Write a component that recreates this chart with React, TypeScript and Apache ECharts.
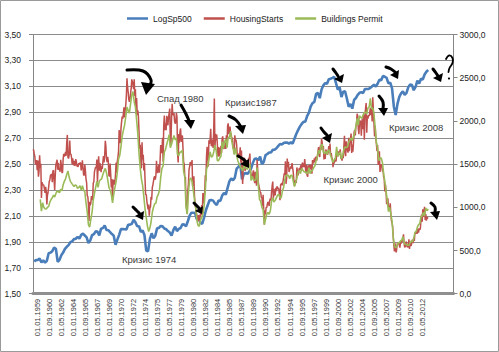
import React, { useEffect, useRef } from 'react';
import * as echarts from 'echarts';

// ---- axis definitions ----
const START_YEAR = 1959; // x = months since 01.01.1959
const X_AXIS_MONTHS = 698;
const X_LABEL_STEP = 20;
const X_LAST_LABEL = 640; // 01.05.2012
const LEFT_MIN = 1.5;
const LEFT_MAX = 3.5;
const LEFT_STEP = 0.2;
const RIGHT_MIN = 0;
const RIGHT_MAX = 3000;
const RIGHT_STEP = 500;

const seriesNames = ['LogSp500', 'HousingStarts', 'Buildings Permit'];

// LogSp500: quarterly (Mar, Jun, Sep, Dec) starting March 1959
const spStartMonth = 2;
const spStepMonths = 3;
const logSp500 = [
  1.749, 1.759, 1.76, 1.771,
  1.741, 1.758, 1.739, 1.754,
  1.812, 1.817, 1.828, 1.856,
  1.847, 1.745, 1.761, 1.797,
  1.817, 1.846, 1.862, 1.875,
  1.897, 1.904, 1.921, 1.924,
  1.939, 1.925, 1.954, 1.963,
  1.949, 1.935, 1.891, 1.91,
  1.951, 1.959, 1.981, 1.979,
  1.95, 2.002, 2.006, 2.027,
  1.992, 1.99, 1.975, 1.96,
  1.948, 1.878, 1.917, 1.954,
  1.998, 1.999, 1.997, 1.996,
  2.032, 2.033, 2.039, 2.07,
  2.051, 2.02, 2.021, 1.977,
  1.987, 1.953, 1.833, 1.827,
  1.923, 1.966, 1.928, 1.948,
  2.005, 2.008, 2.023, 2.02,
  2.003, 1.997, 1.983, 1.972,
  1.949, 1.99, 2.017, 1.983,
  2.0, 2.007, 2.036, 2.033,
  2.02, 2.059, 2.102, 2.125,
  2.125, 2.122, 2.073, 2.093,
  2.045, 2.04, 2.088, 2.144,
  2.182, 2.221, 2.223, 2.218,
  2.197, 2.185, 2.22, 2.216,
  2.257, 2.276, 2.265, 2.317,
  2.366, 2.39, 2.375, 2.395,
  2.465, 2.479, 2.501, 2.382,
  2.424, 2.432, 2.425, 2.442,
  2.466, 2.51, 2.541, 2.542,
  2.53, 2.558, 2.499, 2.517,
  2.569, 2.578, 2.59, 2.589,
  2.61, 2.611, 2.622, 2.639,
  2.655, 2.651, 2.662, 2.666,
  2.666, 2.658, 2.669, 2.658,
  2.695, 2.732, 2.762, 2.789,
  2.81, 2.826, 2.827, 2.871,
  2.897, 2.946, 2.971, 2.98,
  3.042, 3.05, 3.009, 3.076,
  3.108, 3.125, 3.12, 3.155,
  3.159, 3.165, 3.173, 3.124,
  3.074, 3.093, 3.017, 3.059,
  3.062, 3.006, 2.943, 2.963,
  2.928, 2.995, 3.01, 3.034,
  3.05, 3.054, 3.048, 3.079,
  3.079, 3.08, 3.088, 3.101,
  3.112, 3.098, 3.12, 3.151,
  3.148, 3.18, 3.174, 3.165,
  3.123, 3.128, 3.085, 2.943,
  2.879, 2.965, 3.019, 3.045,
  3.061, 3.035, 3.05, 3.094,
  3.115, 3.11, 3.07, 3.095,
  3.144, 3.122, 3.159, 3.153,
  3.191, 3.213, 3.226,
];

// HousingStarts: monthly starting January 1959
const hsStartMonth = 0;
const hsStepMonths = 1;
const housingStarts = [
  1657, 1667, 1620, 1590, 1498, 1503, 1547, 1430, 1540, 1355, 1416, 1601,
  1460, 1503, 1109, 1289, 1266, 1260, 1255, 1259, 1168, 1237, 1185, 1034,
  1139, 1174, 1234, 1300, 1320, 1368, 1378, 1386, 1290, 1418, 1429, 1319,
  1200, 1381, 1494, 1490, 1550, 1434, 1515, 1432, 1443, 1411, 1550, 1488,
  1405, 1399, 1555, 1618, 1590, 1603, 1641, 1596, 1743, 1838, 1581, 1565,
  1600, 1772, 1612, 1617, 1573, 1500, 1568, 1486, 1539, 1481, 1488, 1558,
  1525, 1477, 1474, 1472, 1511, 1491, 1516, 1511, 1428, 1469, 1545, 1452,
  1374, 1369, 1495, 1424, 1327, 1285, 1133, 1125, 1035, 842, 1065, 1024,
  1049, 1131, 1087, 1092, 1281, 1295, 1411, 1442, 1467, 1452, 1553, 1291,
  1467, 1590, 1425, 1508, 1494, 1406, 1474, 1443, 1524, 1592, 1520, 1596,
  1769, 1705, 1561, 1524, 1583, 1528, 1368, 1358, 1507, 1381, 1229, 1327,
  1085, 1305, 1319, 1264, 1290, 1385, 1517, 1399, 1534, 1580, 1647, 1893,
  1828, 1741, 1910, 1986, 2049, 2026, 2083, 2158, 2041, 2128, 2182, 2295,
  2494, 2390, 2334, 2249, 2221, 2254, 2252, 2382, 2481, 2485, 2421, 2366,
  2481, 2289, 2365, 2084, 2266, 2067, 2123, 2051, 1874, 1677, 1724, 1526,
  1451, 1752, 1555, 1607, 1426, 1513, 1316, 1142, 1150, 1070, 1026, 975,
  1032, 904, 993, 1005, 1121, 1087, 1226, 1260, 1264, 1344, 1360, 1321,
  1367, 1538, 1421, 1395, 1459, 1495, 1401, 1550, 1720, 1629, 1641, 1804,
  1527, 1943, 2063, 1892, 1971, 1893, 2058, 2020, 1949, 2042, 2042, 2142,
  1718, 1738, 2032, 2197, 2075, 2070, 2092, 1996, 1970, 1981, 2094, 2044,
  1630, 1520, 1847, 1748, 1876, 1913, 1760, 1778, 1832, 1681, 1524, 1498,
  1341, 1350, 1047, 1051, 927, 1196, 1269, 1436, 1471, 1523, 1510, 1482,
  1547, 1246, 1306, 1360, 1140, 1045, 1041, 940, 911, 873, 837, 910,
  843, 866, 931, 917, 1025, 902, 1166, 1046, 1144, 1173, 1372, 1303,
  1586, 1699, 1606, 1472, 1776, 1733, 1785, 1910, 1710, 1715, 1785, 1688,
  1897, 2260, 1663, 1851, 1774, 1843, 1732, 1586, 1698, 1590, 1689, 1612,
  1711, 1632, 1800, 1821, 1680, 1676, 1684, 1743, 1676, 1834, 1698, 1942,
  1972, 1848, 1876, 1933, 1854, 1847, 1782, 1807, 1687, 1681, 1623, 1833,
  1774, 1784, 1726, 1614, 1628, 1594, 1575, 1605, 1695, 1515, 1656, 1400,
  1271, 1473, 1532, 1573, 1421, 1478, 1467, 1493, 1492, 1522, 1569, 1563,
  1621, 1425, 1422, 1339, 1331, 1397, 1427, 1332, 1279, 1410, 1351, 1251,
  1551, 1437, 1289, 1248, 1212, 1177, 1171, 1115, 1110, 1014, 1145, 969,
  798, 965, 921, 1001, 996, 1036, 1063, 1049, 1015, 1079, 1103, 1079,
  1176, 1250, 1297, 1099, 1214, 1145, 1139, 1226, 1186, 1244, 1214, 1227,
  1210, 1210, 1083, 1258, 1260, 1280, 1254, 1300, 1343, 1392, 1376, 1533,
  1272, 1337, 1564, 1465, 1526, 1409, 1439, 1450, 1474, 1450, 1511, 1455,
  1407, 1316, 1249, 1267, 1314, 1281, 1461, 1416, 1369, 1369, 1452, 1431,
  1467, 1491, 1424, 1516, 1504, 1467, 1472, 1557, 1475, 1392, 1489, 1370,
  1355, 1486, 1457, 1492, 1442, 1494, 1437, 1390, 1546, 1520, 1510, 1566,
  1525, 1584, 1567, 1540, 1536, 1641, 1698, 1614, 1582, 1715, 1660, 1792,
  1748, 1670, 1710, 1553, 1611, 1559, 1669, 1648, 1635, 1608, 1648, 1708,
  1636, 1737, 1604, 1626, 1575, 1559, 1463, 1541, 1507, 1549, 1551, 1532,
  1600, 1625, 1590, 1649, 1605, 1636, 1670, 1567, 1562, 1540, 1602, 1568,
  1698, 1829, 1642, 1592, 1764, 1717, 1655, 1633, 1804, 1648, 1753, 1788,
  1853, 1629, 1726, 1643, 1751, 1867, 1897, 1833, 1939, 1967, 2083, 2057,
  1911, 1846, 1998, 2003, 1981, 1828, 2002, 2024, 1905, 2072, 1782, 2042,
  2144, 2207, 1864, 2061, 2025, 2068, 2054, 2095, 2151, 2065, 2147, 1994,
  2273, 2119, 1969, 1821, 1942, 1802, 1737, 1650, 1720, 1491, 1570, 1649,
  1409, 1480, 1495, 1490, 1415, 1448, 1354, 1330, 1183, 1264, 1197, 1037,
  1084, 1103, 1005, 1013, 973, 1046, 923, 844, 820, 777, 652, 560,
  490, 582, 505, 478, 540, 585, 594, 586, 585, 534, 588, 581,
  614, 604, 636, 687, 583, 537, 546, 599, 594, 543, 545, 539,
  630, 517, 600, 554, 561, 608, 623, 585, 650, 610, 711, 694,
  723, 704, 695, 753, 708, 757, 740, 754, 847, 915, 833, 976,
  888, 962, 1005, 852, 923, 846, 883, 883, 873,
];

// Buildings Permit: every two months starting January 1960
const bpStartMonth = 12;
const bpStepMonths = 2;
const buildingsPermit = [
  1092, 955, 1052, 999, 984, 979,
  1000, 1010, 1060, 1090, 1110, 1140,
  1120, 1160, 1190, 1180, 1170, 1210,
  1190, 1260, 1300, 1330, 1380, 1420,
  1350, 1300, 1280, 1260, 1240, 1260,
  1250, 1220, 1230, 1250, 1200, 1250,
  1200, 1180, 1050, 950, 800, 770,
  860, 940, 1080, 1160, 1230, 1300,
  1230, 1300, 1320, 1330, 1380, 1420,
  1450, 1400, 1320, 1230, 1200, 1150,
  1050, 1150, 1230, 1300, 1410, 1560,
  1600, 1700, 1820, 1890, 1950, 2050,
  2160, 2120, 2090, 2200, 2300, 2340,
  2220, 2160, 2010, 1850, 1620, 1450,
  1330, 1250, 1120, 980, 880, 780,
  720, 760, 830, 940, 1000, 1040,
  1050, 1120, 1150, 1200, 1350, 1450,
  1480, 1640, 1670, 1730, 1780, 1840,
  1690, 1730, 1780, 1830, 1780, 1800,
  1610, 1600, 1640, 1640, 1660, 1420,
  1350, 1000, 920, 1170, 1320, 1340,
  1300, 1200, 1090, 1000, 850, 790,
  780, 850, 880, 920, 1010, 1190,
  1440, 1480, 1560, 1640, 1580, 1590,
  1640, 1720, 1660, 1540, 1540, 1570,
  1590, 1760, 1680, 1760, 1790, 1690,
  1810, 1810, 1880, 1760, 1690, 1610,
  1690, 1600, 1540, 1500, 1470, 1450,
  1420, 1480, 1460, 1450, 1440, 1480,
  1500, 1310, 1360, 1320, 1310, 1320,
  1460, 1250, 1090, 1070, 1000, 970,
  800, 860, 920, 940, 920, 960,
  1070, 1110, 1060, 1080, 1110, 1140,
  1150, 1110, 1110, 1190, 1230, 1320,
  1370, 1370, 1370, 1330, 1370, 1370,
  1300, 1240, 1290, 1340, 1410, 1420,
  1390, 1450, 1430, 1410, 1410, 1400,
  1390, 1460, 1390, 1420, 1430, 1460,
  1480, 1540, 1580, 1660, 1620, 1710,
  1730, 1640, 1620, 1650, 1610, 1660,
  1660, 1600, 1560, 1520, 1550, 1570,
  1700, 1590, 1620, 1640, 1560, 1600,
  1670, 1700, 1690, 1700, 1750, 1780,
  1800, 1770, 1820, 1860, 1940, 2030,
  1950, 2060, 2040, 2030, 2070, 2100,
  2100, 2080, 2150, 2160, 2260, 2140,
  2150, 2080, 1920, 1750, 1680, 1540,
  1570, 1570, 1520, 1390, 1300, 1190,
  1080, 950, 1000, 920, 840, 650,
  550, 530, 550, 590, 590, 610,
  620, 660, 590, 570, 570, 560,
  560, 590, 610, 600, 640, 710,
  720, 770, 800, 810, 890, 900,
  940, 900, 990, 960, 980,
];

// Annotations (text in the original language)
const notes = [
  { text: 'Спад 1980', x: 157, y: 98 },
  { text: 'Кризис1987', x: 225, y: 102 },
  { text: 'Кризис 1974', x: 122, y: 259.5 },
  { text: 'Кризис 2000', x: 323.5, y: 179 },
  { text: 'Кризис 2008', x: 389, y: 127.5 },
];

const toPairs = (vals: number[], start: number, step: number) =>
  vals.map((v, i) => [start + i * step, v]);

const monthLabel = (v: number) => {
  if (v % X_LABEL_STEP !== 0 || v > X_LAST_LABEL || v < 0) return '';
  const y = START_YEAR + Math.floor(v / 12);
  const m = (v % 12) + 1;
  return `01.${m < 10 ? '0' + m : m}.${y}`;
};

const FONT = '"Liberation Sans", Arial, sans-serif';

function arrow(pts: number[][], head: number[][], smooth = 0.35) {
  return [
    {
      type: 'polyline',
      shape: { points: pts, smooth },
      style: { stroke: '#000', lineWidth: 3, fill: null, lineCap: 'round', lineJoin: 'round' },
      z: 100,
    },
    { type: 'polygon', shape: { points: head }, style: { fill: '#000' }, z: 100 },
  ];
}

export default function App() {
  const ref = useRef<HTMLDivElement>(null);
  useEffect(() => {
    if (!ref.current) return;
    const chart = echarts.init(ref.current, null, { renderer: 'svg' });

    const graphics: any[] = [
      {
        type: 'rect',
        shape: { x: 0.5, y: 0.5, width: 498, height: 351 },
        style: { stroke: '#9a9a9a', fill: null, lineWidth: 1 },
        z: 1,
      },
      ...notes.map((n) => ({
        type: 'text',
        x: n.x,
        y: n.y,
        style: {
          text: n.text,
          fontSize: 9.5,
          fontWeight: 'normal',
          fontFamily: FONT,
          fill: '#3a3a3a',
          verticalAlign: 'middle',
        },
        z: 100,
      })),
      // hand drawn arrows
      ...arrow([[127, 70], [143, 71], [151, 80], [149, 87]], [[141, 82], [155, 84], [146, 95]]),
      ...arrow([[181, 105], [186, 114], [190, 123]], [[184, 120], [195, 120], [191, 129]]),
      ...arrow([[229, 116], [236, 120], [241, 127]], [[235, 126], [246, 125], [243, 134]]),
      ...arrow([[238, 156], [243, 159], [246, 162]], [[240, 164], [249, 159], [249, 168]]),
      ...arrow([[133, 207], [137, 211], [140, 214]], [[135, 216], [144, 211], [143, 220]]),
      ...arrow([[194, 203], [197, 206], [199, 208]], [[195, 211], [203, 206], [202, 214]]),
      ...arrow([[321, 128], [324, 132], [327, 135]], [[322, 138], [332, 133], [330, 143]]),
      ...arrow([[333, 69], [336, 73], [338, 76]], [[334, 79], [344, 74], [342, 83]]),
      ...arrow([[386, 67], [391, 69], [395, 72]], [[390, 75], [399, 70], [398, 79]]),
      ...arrow([[379, 96], [383, 102], [383, 109]], [[378, 108], [388, 108], [384, 116]]),
      ...arrow([[433, 69], [436, 73], [438, 76]], [[433, 78], [443, 73], [441, 82]]),
      ...arrow([[431, 203], [435, 207], [435, 212]], [[430, 212], [440, 211], [437, 220]]),
      {
        type: 'polyline',
        shape: { points: [[446, 59], [449, 55.5], [452.5, 58], [452.5, 63], [449.5, 68], [448.5, 72]], smooth: 0.4 },
        style: { stroke: '#000', lineWidth: 1.8, fill: null, lineCap: 'round' },
        z: 100,
      },
      { type: 'circle', shape: { cx: 449, cy: 78.5, r: 1.1 }, style: { fill: '#000' }, z: 100 },
    ];

    chart.setOption({
      animation: false,
      backgroundColor: '#ffffff',
      textStyle: { fontFamily: FONT },
      legend: {
        data: seriesNames,
        left: 122,
        top: 9,
        icon: 'rect',
        itemWidth: 21,
        itemHeight: 2.5,
        itemGap: 12,
        textStyle: { fontSize: 8.5, color: '#222', fontFamily: FONT },
      },
      grid: { left: 33, right: 45.5, top: 34.5, bottom: 58.3, containLabel: false },
      xAxis: {
        type: 'value',
        min: 0,
        max: X_AXIS_MONTHS,
        interval: X_LABEL_STEP,
        axisLine: { show: true, lineStyle: { color: '#8f8f8f', width: 3 } },
        axisTick: { show: false },
        splitLine: { show: false },
        axisLabel: {
          rotate: 90,
          fontSize: 7.5,
          color: '#333',
          margin: 5,
          verticalAlign: 'top',
          showMaxLabel: false,
          formatter: monthLabel,
        },
      },
      yAxis: [
        {
          type: 'value',
          min: LEFT_MIN,
          max: LEFT_MAX,
          interval: LEFT_STEP,
          axisLine: { show: true, lineStyle: { color: '#868686' } },
          axisTick: { show: true, inside: false, length: 4, lineStyle: { color: '#868686' } },
          splitLine: { show: true, lineStyle: { color: '#8c8c8c', width: 1 } },
          axisLabel: {
            fontSize: 8.5,
            color: '#222',
            margin: 12,
            formatter: (v: number) => v.toFixed(2).replace('.', ','),
          },
        },
        {
          type: 'value',
          min: RIGHT_MIN,
          max: RIGHT_MAX,
          interval: RIGHT_STEP,
          position: 'right',
          axisLine: { show: true, lineStyle: { color: '#868686' } },
          axisTick: { show: true, inside: false, length: 4, lineStyle: { color: '#868686' } },
          splitLine: { show: false },
          axisLabel: {
            fontSize: 8.5,
            color: '#222',
            margin: 6,
            formatter: (v: number) => v.toFixed(1).replace('.', ','),
          },
        },
      ],
      series: [
        {
          name: seriesNames[0],
          type: 'line',
          yAxisIndex: 0,
          data: toPairs(logSp500, spStartMonth, spStepMonths),
          showSymbol: false,
          symbol: 'none',
          lineStyle: { color: '#4a7ebb', width: 2.6 },
          itemStyle: { color: '#4a7ebb' },
        },
        {
          name: seriesNames[1],
          type: 'line',
          yAxisIndex: 1,
          data: toPairs(housingStarts, hsStartMonth, hsStepMonths),
          showSymbol: false,
          symbol: 'none',
          lineStyle: { color: '#c0504d', width: 1.5 },
          itemStyle: { color: '#c0504d' },
        },
        {
          name: seriesNames[2],
          type: 'line',
          yAxisIndex: 1,
          data: toPairs(buildingsPermit, bpStartMonth, bpStepMonths),
          showSymbol: false,
          symbol: 'none',
          lineStyle: { color: '#9bbb59', width: 1.6 },
          itemStyle: { color: '#9bbb59' },
        },
      ],
      graphic: graphics,
    });
    return () => chart.dispose();
  }, []);
  return (
    <div
      ref={ref}
      style={{ position: 'fixed', left: 0, top: 0, width: 499, height: 352 }}
    />
  );
}
